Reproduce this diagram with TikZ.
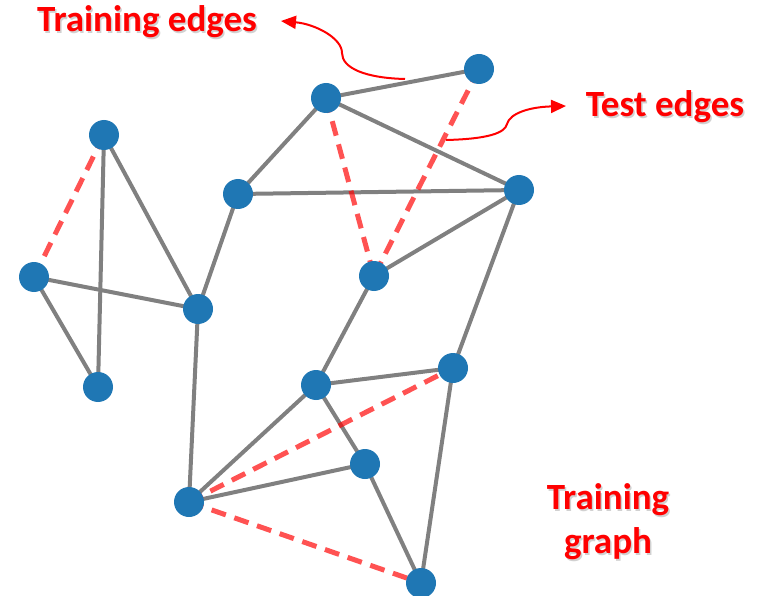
\documentclass[tikz,border=0pt]{standalone}
\usepackage{fontspec}
\setmainfont{Carlito}
\usetikzlibrary{arrows.meta}
\definecolor{nodeblue}{RGB}{31,119,180}
\definecolor{edgegray}{RGB}{128,128,128}
\definecolor{testred}{RGB}{255,0,0}
\tikzset{
  vertex/.style={circle,fill=nodeblue,minimum size=30pt,inner sep=0pt},
  trainedge/.style={draw=edgegray,line width=4pt},
  testedge/.style={draw=testred,draw opacity=0.68,line width=5pt,dash pattern=on 15pt off 9pt},
  callout/.style={draw=red,line width=2pt,-{Triangle[length=15pt,width=13pt]}},
  caption/.style={text=red,font=\fontsize{37}{44}\selectfont\bfseries,align=center,inner sep=0pt},
  shade/.style={caption,text=black,text opacity=0.18}
}
\pgfdeclarelayer{bg}
\pgfsetlayers{bg,main}
\begin{document}
\begin{tikzpicture}[x=1pt,y=-1pt]
\useasboundingbox (0,0) rectangle (763,596);
\clip (0,0) rectangle (763,596);

% vertices
\node[vertex] (a) at (104,135) {};
\node[vertex] (b) at (34,277) {};
\node[vertex] (c) at (98,387) {};
\node[vertex] (d) at (198,309) {};
\node[vertex] (e) at (238,194) {};
\node[vertex] (f) at (326,98) {};
\node[vertex] (g) at (479,69) {};
\node[vertex] (h) at (519,190) {};
\node[vertex] (i) at (374,276) {};
\node[vertex] (j) at (453,368) {};
\node[vertex] (k) at (316,385) {};
\node[vertex] (l) at (365,464) {};
\node[vertex] (m) at (189,502) {};
\node[vertex] (n) at (421,583) {};

% edges sit underneath the vertices
\begin{pgfonlayer}{bg}
  \foreach \u/\v in {a/d,a/c,b/d,b/c,d/e,d/m,e/f,e/h,f/g,f/h,h/i,h/j,i/k,k/j,k/l,k/m,m/l,l/n,j/n}
    \path[trainedge] (\u.center) -- (\v.center);
  \foreach \u/\v in {a/b,f/i,g/i,m/j,m/n}
    \path[testedge] (\u.center) -- (\v.center);
\end{pgfonlayer}

% captions with a faint drop shadow
\coordinate (traintip) at (281,21);
\coordinate (testtip) at (566,106);
\node[shade] at (148.5,23.5) {Training edges};
\node[caption] (trainlbl) at (147,22) {Training edges};
\node[shade] at (666.5,108.5) {Test edges};
\node[caption] (testlbl) at (665,107) {Test edges};
\node[shade] at (609.5,523.5) {Training\\graph};
\node[caption] (graphlbl) at (608,522) {Training\\graph};

% callout arrows
\coordinate (trainstart) at (405,79);
\coordinate (teststart) at (446,140);
\draw[callout] (trainstart) .. controls (365,78) and (342,68) .. (342,53)
  .. controls (342,38) and (315,24) .. (traintip);
\draw[callout] (teststart) .. controls (488,139) and (505,133) .. (507,124)
  .. controls (510,113) and (530,107) .. (testtip);
\end{tikzpicture}
\end{document}
